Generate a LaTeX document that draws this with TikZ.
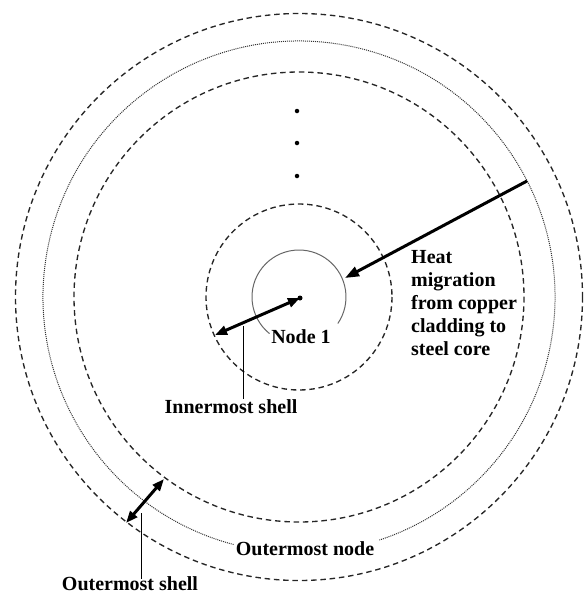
\documentclass[tikz,border=0pt]{standalone}
\usepackage{fontspec}
\setmainfont{Liberation Serif}
\usetikzlibrary{arrows.meta,calc}
\begin{document}
\begin{tikzpicture}[x=1pt,y=-1pt,
  shelldash/.style={line width=1.35pt, dash pattern=on 5.5pt off 3.8pt, black!85},
  nodedot/.style={line width=1pt, dash pattern=on 1pt off 1pt, black!80},
  nodearc/.style={line width=1pt, black!60},
  heatarrow/.style={line width=3pt, -{Triangle[length=14pt,width=10pt]}},
  shellarrow/.style={line width=3pt, {Triangle[length=12pt,width=9pt]}-{Triangle[length=12pt,width=9pt]}},
  leader/.style={line width=0.9pt},
  lbl/.style={font=\bfseries\fontsize{20}{23}\selectfont, inner sep=0pt},
  vdot/.style={circle, fill=black, inner sep=0pt, minimum size=4.5pt}
]
\useasboundingbox (0,0) rectangle (584,595);
\coordinate (c) at (299,297);
% shells and node circles
\draw[shelldash] (c) circle [radius=283.5];
\draw[nodedot] ($(c)+(104.8:256)$) arc [start angle=104.8, end angle=431.7, radius=256];
\draw[shelldash] (c) circle [radius=225];
\draw[shelldash] (c) circle [radius=93];
\draw[nodearc] ($(c)+(128.9:47)$) arc [start angle=128.9, end angle=394.3, radius=47];
% centre dot and vertical dots
\node[vdot, minimum size=5pt] (centre) at (300,298) {};
\node[vdot] (d1) at (297,111) {};
\node[vdot] (d2) at (297,143) {};
\node[vdot] (d3) at (297,176) {};
% heat migration arrow
\coordinate (heattail) at (527,181);
\coordinate (heattip) at (345,278);
\draw[heatarrow] (heattail) -- (heattip);
\node[lbl, anchor=base west, align=left] (heat) at (411,355) {Heat\\migration\\from copper\\cladding to\\steel core};
% innermost shell
\coordinate (inA) at (215,335);
\coordinate (inB) at (300,298);
\draw[shellarrow] (inA) -- (inB);
\node[lbl] (node1) at (301,337) {Node 1};
\coordinate (inlead) at (243,326);
\node[lbl, anchor=base] (inner) at (231,413) {Innermost shell};
\draw[leader] (inlead) -- (inlead |- inner.north);
% outermost shell
\coordinate (outA) at (126,523);
\coordinate (outB) at (164,479);
\draw[shellarrow] (outA) -- (outB);
\coordinate (outlead) at (141,513);
\node[lbl, anchor=base] (outer) at (130,590) {Outermost shell};
\draw[leader] (outlead) -- ([yshift=-3pt]outlead |- outer.north);
\node[lbl, anchor=base] (outnode) at (305,555) {Outermost node};
\end{tikzpicture}
\end{document}
